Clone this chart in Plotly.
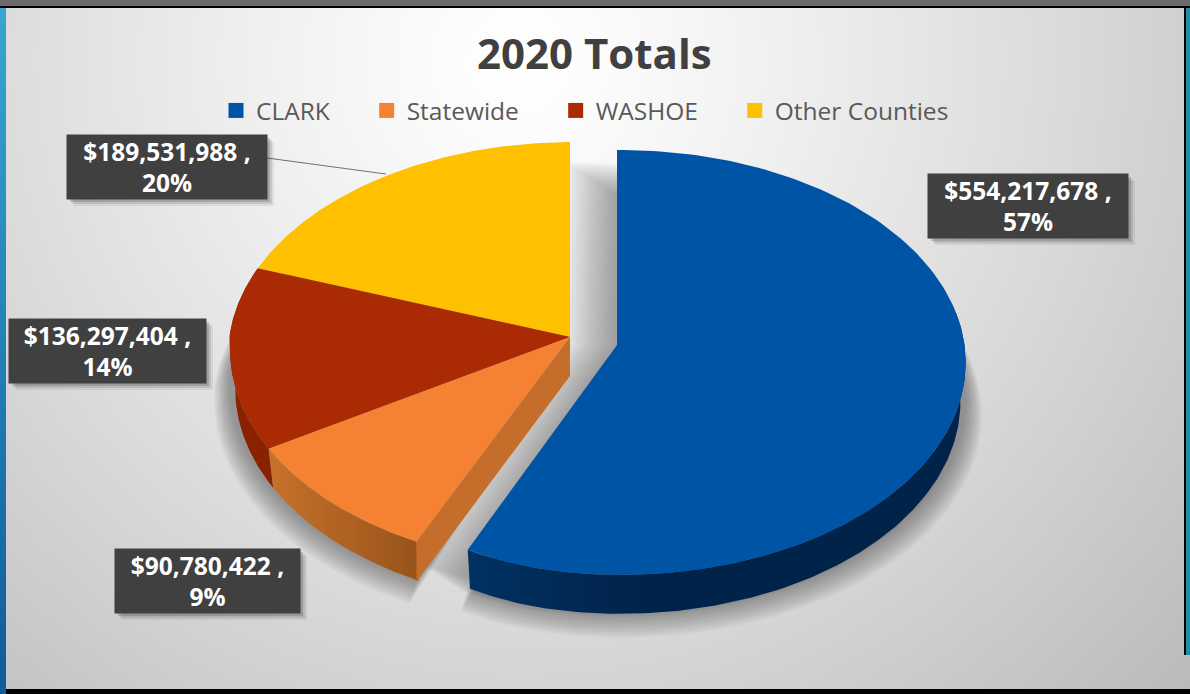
import numpy as np
import plotly.graph_objects as go

# ---------- data ----------
categories = ["CLARK", "Statewide", "WASHOE", "Other Counties"]
values = [554217678, 90780422, 136297404, 189531988]
percent_labels = [57, 9, 14, 20]
title_text = "2020 Totals"

# ---------- styling ----------
top_colors = ["#0054A6", "#F58233", "#A92A03", "#FFC000"]
GROUP_C, BLUE_C = (570, 337), (617, 345)
RX, RY, K, M, DEPTH, SHRINK = 344, 211, 0.082, -0.01, 39, 0.985
W, H = 1190, 694

frac = np.cumsum([0] + values) / sum(values)
angles = frac * 2 * np.pi


def proj(theta, c):
    u, v = np.sin(theta), np.cos(theta)
    w = 1 + K * v + M * u
    x = c[0] + RX * u / w
    if c == BLUE_C:
        x = x + 54 * np.minimum(u, 0) ** 2
    else:
        x = x + 6 * np.sqrt(np.maximum(-v, 0))
    return x, c[1] - RY * v / w


def arc(a, b, c):
    return proj(np.linspace(a, b, 160), c)


def poly(x, y, color=None, **kw):
    return go.Scatter(x=list(x), y=list(y), mode="lines", fill="toself",
                      fillcolor=color, line=dict(width=0), hoverinfo="skip",
                      showlegend=False, **kw)


def side(a, b, c):
    x, y = arc(a, b, c)
    xb = c[0] + (x - c[0]) * SHRINK
    yb = y + DEPTH
    return np.r_[x, xb[::-1]], np.r_[y, yb[::-1]]


def grad(c0, c1, x0, x1):
    return dict(type="horizontal", start=x0, stop=x1,
                colorscale=[[0, c0], [1, c1]])


fig = go.Figure()

# background gradient
gx = np.linspace(0, W, 60)
gy = np.linspace(0, H, 40)
X, Y = np.meshgrid(gx, gy)
d = np.sqrt(((X - 520) / 640) ** 2 + ((Y - 60) / 650) ** 2)
Z = 255 - 45 * d ** 1.2
fig.add_trace(go.Heatmap(x=gx, y=gy, z=Z, zmin=0, zmax=255, zsmooth="best",
                         colorscale=[[0, "#000000"], [1, "#ffffff"]],
                         showscale=False, hoverinfo="skip"))

# soft shadows (group and blue slice)
for t in np.linspace(1, 0, 14):
    grow, off = 16 * t, 38 + 14 * t
    a_sh = "rgba(70,70,70,0.045)"
    for (a, b, c) in [(angles[1], angles[4], GROUP_C), (angles[0], angles[1], BLUE_C)]:
        x, y = arc(a, b, c)
        sx = c[0] + (x - c[0]) * (1 + grow / 345)
        sy = c[1] + (y - c[1]) * (1 + grow / 345) + off
        sx = np.r_[c[0], sx]
        sy = np.r_[c[1] + 18, sy]
        fig.add_trace(poly(sx, sy, a_sh))
    # the blue slice also throws a shadow towards the gap on its left
    x, y = arc(angles[0], angles[1], BLUE_C)
    fig.add_trace(poly(np.r_[BLUE_C[0] - 47 * (1.1 - t), x - 47 * (1.1 - t)],
                       np.r_[BLUE_C[1], y + 12 + 30 * t], "rgba(70,70,70,0.035)"))

# side walls
x, y = side(angles[2], angles[3], GROUP_C)
fig.add_trace(poly(x, y, "#8A2200"))
x, y = side(angles[1], angles[2], GROUP_C)
fig.add_trace(poly(x, y, fillgradient=grad("#C8722C", "#99541A", 265, 415)))
# cut face of the orange slice
ex, ey = proj(angles[1], GROUP_C)
fig.add_trace(poly([GROUP_C[0], ex, ex, GROUP_C[0]],
                   [GROUP_C[1], ey, ey + DEPTH + 1, GROUP_C[1] + DEPTH], "#C56D2B"))
x, y = side(angles[0] + np.pi * 0.45, angles[1], BLUE_C)
fig.add_trace(poly(x, y, fillgradient=grad("#013263", "#00234A", 465, 640)))

# top faces
for i in [3, 2, 1]:
    x, y = arc(angles[i], angles[i + 1], GROUP_C)
    fig.add_trace(poly(np.r_[GROUP_C[0], x], np.r_[GROUP_C[1], y], top_colors[i]))
x, y = arc(angles[0], angles[1], BLUE_C)
fig.add_trace(poly(np.r_[BLUE_C[0], x], np.r_[BLUE_C[1], y], top_colors[0]))

# legend entries
pad = ["\u00a0" * 5, "\u00a0" * 5, "\u00a0" * 5, ""]
for c, col, p in zip(categories, top_colors, pad):
    fig.add_trace(go.Scatter(x=[None], y=[None], mode="markers", name=c + p,
                             marker=dict(symbol="square", size=15, color=col)))

# leader line
fig.add_trace(go.Scatter(x=[267, 386], y=[158, 174], mode="lines", showlegend=False,
                         hoverinfo="skip", line=dict(color="#707070", width=1)))

# frame
fig.add_trace(go.Scatter(x=[0, 6, 6, 0], y=[8, 8, H, H], mode="lines", fill="toself",
                         line=dict(width=0), showlegend=False, hoverinfo="skip",
                         fillgradient=dict(type="vertical", start=8, stop=H,
                                           colorscale=[[0, "#37A6D0"], [1, "#0F5B9B"]])))
shapes = [
    dict(type="rect", x0=0, x1=W, y0=0, y1=6, fillcolor="#6E6A6C", line_width=0),
    dict(type="rect", x0=0, x1=W, y0=6, y1=8, fillcolor="#000000", line_width=0),
    dict(type="rect", x0=6, x1=W, y0=689, y1=H, fillcolor="#000000", line_width=0),
    dict(type="rect", x0=W - 6, x1=W - 4, y0=8, y1=655, fillcolor="#000000", line_width=0),
    dict(type="rect", x0=W - 4, x1=W, y0=8, y1=655, fillcolor="#1F8FB0", line_width=0),
]

# data labels
boxes = [(1028, 206), (207.5, 581), (107.5, 351), (167, 167)]
sizes = [(200, 64), (185, 64), (197, 64), (200, 64)]
annotations = []
for v, pct, (bx, by), (bw, bh) in zip(values, percent_labels, boxes, sizes):
    for s in [(7, 0.08), (5, 0.12), (3, 0.2)]:
        shapes.append(dict(type="rect", x0=bx - bw / 2 + s[0], x1=bx + bw / 2 + s[0],
                           y0=by - bh / 2 + s[0], y1=by + bh / 2 + s[0],
                           fillcolor=f"rgba(40,40,40,{s[1]})", line_width=0))
    annotations.append(dict(x=bx, y=by, xref="x", yref="y", showarrow=False,
                            text=f"${v:,} ,<br>{pct}%", width=bw, height=bh,
                            align="center", valign="middle", bgcolor="#404040",
                            font=dict(family="Open Sans", size=24.5, color="#FFFFFF",
                                      weight="bold"), borderpad=0))

annotations.append(dict(x=594, y=52, xref="x", yref="y", showarrow=False, text=title_text,
                        font=dict(family="Open Sans", size=42, color="#404040", weight="bold")))

fig.update_layout(
    width=W, height=H, margin=dict(l=0, r=0, t=0, b=0),
    paper_bgcolor="#ffffff", plot_bgcolor="#ffffff",
    xaxis=dict(range=[0, W], visible=False, fixedrange=True),
    yaxis=dict(range=[H, 0], visible=False, fixedrange=True),
    legend=dict(orientation="h", x=216 / W, y=1 - 88 / H, xanchor="left", yanchor="top",
                bgcolor="rgba(0,0,0,0)", font=dict(family="Open Sans", size=24.5, color="#595959"),
                traceorder="normal"),
    shapes=shapes, annotations=annotations,
)
fig.write_html("out.html", config=dict(displayModeBar=False),
               post_script="document.body.style.margin='0';")
